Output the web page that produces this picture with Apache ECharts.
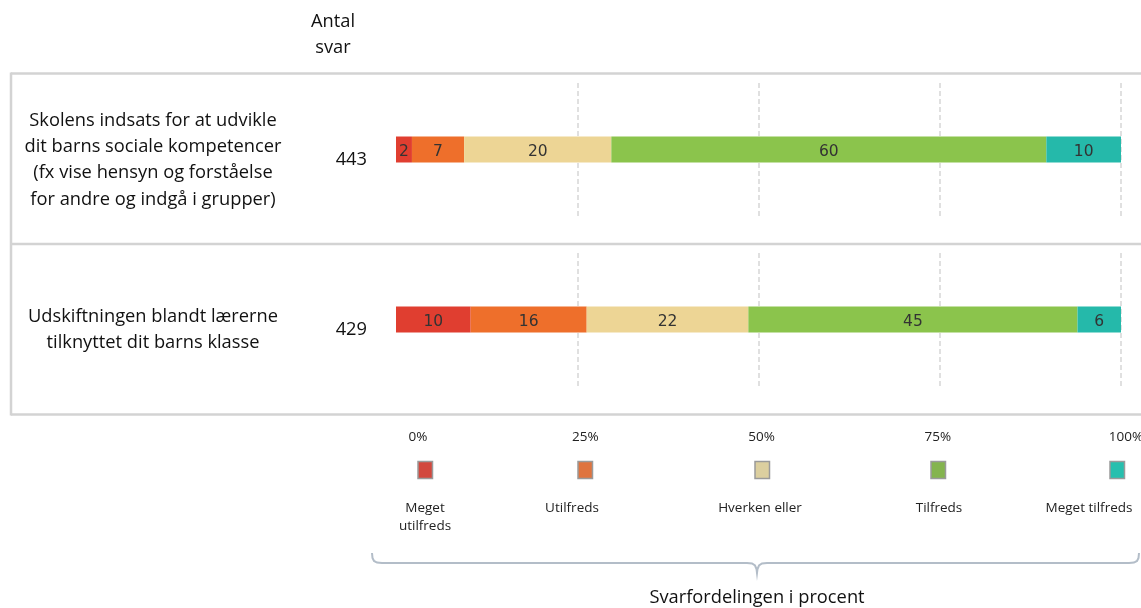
<!DOCTYPE html>
<html>
<head>
<meta charset="utf-8">
<script src="https://cdn.jsdelivr.net/npm/echarts@6/dist/echarts.min.js"></script>
<style>html,body{margin:0;padding:0;background:#fff;}#c{width:1141px;height:608px;}</style>
</head>
<body>
<div id="c"></div>
<script>
// ---- data ----
const categories = [
  'Skolens indsats for at udvikle\ndit barns sociale kompetencer\n(fx vise hensyn og forståelse\nfor andre og indgå i grupper)',
  'Udskiftningen blandt lærerne\ntilknyttet dit barns klasse'
];
const counts = [443, 429];
const seriesNames = ['Meget utilfreds', 'Utilfreds', 'Hverken eller', 'Tilfreds', 'Meget tilfreds'];
const legendLabels = ['Meget\nutilfreds', 'Utilfreds', 'Hverken eller', 'Tilfreds', 'Meget tilfreds'];
const megetUtilfreds = [2.2, 10.3];
const utilfreds = [7.2, 16.0];
const hverkenEller = [20.3, 22.3];
const tilfreds = [60.0, 45.4];
const megetTilfreds = [10.3, 6.0];
const headerText = 'Antal\nsvar';
const axisTitle = 'Svarfordelingen i procent';

// ---- styles / layout ----
const values = [megetUtilfreds, utilfreds, hverkenEller, tilfreds, megetTilfreds];
const colors = ['#e03e30', '#ee6f2b', '#edd595', '#8bc44c', '#25b9aa'];
const legendFill = ['#d2483e', '#df743f', '#dccf9f', '#84b44e', '#27bfae'];
const FONT = '"Open Sans", sans-serif';
const BIG = 18.3, SMALL = 13.5;
const gridTops = [83, 253];
const gridH = 133;
const legendIconX = [425, 585, 762, 938, 1117];
const legendTextX = [425, 572, 760, 939, 1089];
// horizontal nudge of each tick label (px), applied through rich padding
const tickNudge = { 0: 22, 25: 8, 50: 3, 75: -2, 100: 5 };
const shiftDown = { p: { height: 21, lineHeight: 21, fontSize: 1 } };

const tickRich = {};
Object.keys(tickNudge).forEach(k => {
  const n = tickNudge[k];
  tickRich['t' + k] = { fontSize: SMALL, color: '#222', fontFamily: FONT,
    padding: n >= 0 ? [0, 0, 0, 2 * n] : [0, -2 * n, 0, 0] };
});

const grids = [], xAxes = [], yAxes = [], series = [];
categories.forEach((cat, i) => {
  grids.push({ left: 396, right: 20, top: gridTops[i], height: gridH, containLabel: false, outerBoundsMode: 'none' });
  xAxes.push({
    type: 'value', gridIndex: i, min: 0, max: 100, interval: 25,
    axisLine: { show: false }, axisTick: { show: false },
    axisLabel: i === categories.length - 1 ? {
      show: true, margin: 44, fontSize: SMALL, color: '#222', fontFamily: FONT,
      formatter: v => '{t' + v + '|' + v + '%}',
      rich: tickRich
    } : { show: false },
    splitLine: { show: true, showMinLine: false, lineStyle: { type: [5, 3], color: '#d6d6d6', width: 1.5 } }
  });
  yAxes.push({
    type: 'category', gridIndex: i, position: 'left', data: [String(counts[i])],
    axisLine: { show: false }, axisTick: { show: false },
    axisLabel: { align: 'right', margin: 29, fontSize: BIG, lineHeight: 22, color: '#111', fontFamily: FONT,
      formatter: v => '{p| }\n' + v, rich: shiftDown }
  });
  yAxes.push({
    type: 'category', gridIndex: i, position: 'left', data: [cat],
    axisLine: { show: false }, axisTick: { show: false },
    axisLabel: { align: 'center', margin: 243, fontSize: BIG, lineHeight: 26.3, color: '#111', fontFamily: FONT,
      formatter: v => '{p| }\n' + v, rich: shiftDown }
  });
  seriesNames.forEach((name, s) => {
    series.push({
      type: 'bar', name: name, stack: 'g' + i, xAxisIndex: i, yAxisIndex: 2 * i,
      data: [values[s][i]], barWidth: 26,
      itemStyle: { color: colors[s] },
      label: {
        show: true, position: 'inside', offset: [0, 2],
        formatter: p => Math.round(p.value),
        fontFamily: '"DejaVu Sans", sans-serif', fontSize: 15.5, color: '#333'
      },
      emphasis: { disabled: true }
    });
  });
});

const lineStyle = { stroke: '#d3d3d3', lineWidth: 2.5 };
const graphic = [
  { type: 'line', shape: { x1: 11, y1: 73.5, x2: 1141, y2: 73.5 }, style: lineStyle, silent: true },
  { type: 'line', shape: { x1: 11, y1: 244, x2: 1141, y2: 244 }, style: lineStyle, silent: true },
  { type: 'line', shape: { x1: 11, y1: 414.5, x2: 1141, y2: 414.5 }, style: lineStyle, silent: true },
  { type: 'line', shape: { x1: 11, y1: 72.5, x2: 11, y2: 415.5 }, style: lineStyle, silent: true },
  { type: 'text', x: 333, y: 8.5, style: { text: headerText, align: 'center', verticalAlign: 'top', fontSize: BIG, lineHeight: 26.3, fill: '#111', fontFamily: FONT } },
  { type: 'polyline', shape: { points: [[372,553],[372.5,558],[374,561],[377,562.6],[382,563],[747,563],[752,563.5],[755,565.5],[756.5,569],[757,573],[757.5,569],[759,565.5],[762,563.5],[767,563],[1129,563],[1134,562.6],[1137,561],[1138.5,558],[1139,553]] },
    style: { stroke: '#b3bdc8', lineWidth: 2, fill: null }, silent: true },
  { type: 'text', x: 757, y: 598, style: { text: axisTitle, align: 'center', verticalAlign: 'middle', fontSize: BIG, fill: '#111', fontFamily: FONT } }
];
seriesNames.forEach((name, s) => {
  graphic.push({ type: 'rect', shape: { x: legendIconX[s] - 7, y: 461.5, width: 14.5, height: 17 },
    style: { fill: legendFill[s], stroke: '#9a9a9a', lineWidth: 1.5 } });
  graphic.push({ type: 'text', x: legendTextX[s], y: 499,
    style: { text: legendLabels[s], align: 'center', verticalAlign: 'top', fontSize: SMALL, lineHeight: 18, fill: '#222', fontFamily: FONT } });
});

const chart = echarts.init(document.getElementById('c'), null, { renderer: 'canvas' });
chart.setOption({
  animation: false,
  backgroundColor: '#fff',
  grid: grids, xAxis: xAxes, yAxis: yAxes, series: series,
  graphic: graphic
});
</script>
</body>
</html>
